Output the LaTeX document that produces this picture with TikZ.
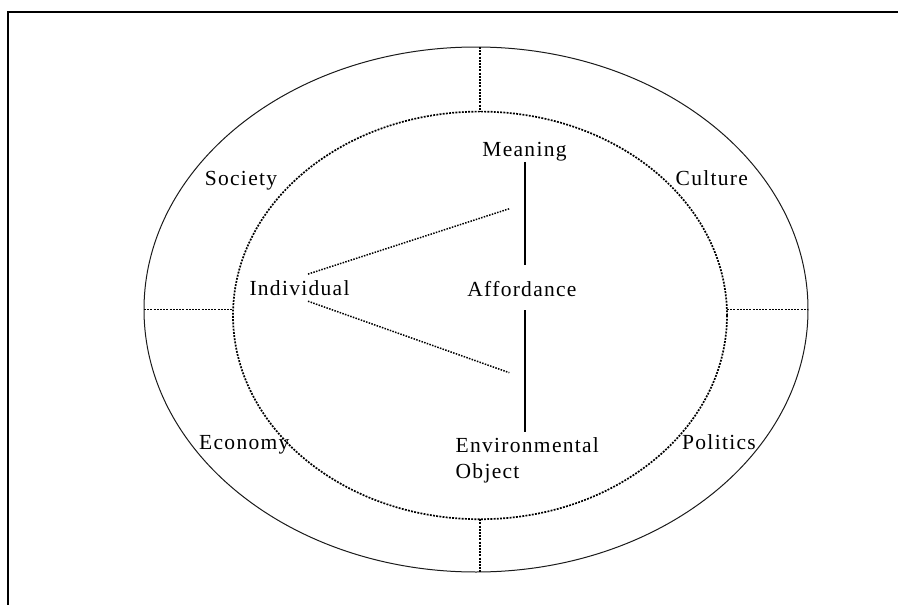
\documentclass[tikz,border=0pt]{standalone}
\usepackage{fontspec}
\usepackage{tikz}
\usetikzlibrary{shapes.geometric}
\newfontfamily\labelfont[LetterSpace=6]{Liberation Serif}
\definecolor{ringgray}{HTML}{1A1A1A}

\begin{document}
\begin{tikzpicture}[x=1pt,y=-1pt,
  frameline/.style={line width=2pt},
  ring/.style={ellipse,draw=ringgray,line width=1pt,inner sep=0pt,outer sep=0pt},
  dotring/.style={ring,draw=black,line width=1.7pt,dash pattern=on 1.9pt off 1.3pt},
  spoke/.style={line width=1.7pt,dash pattern=on 1.9pt off 1.3pt},
  link/.style={line width=1.5pt,dash pattern=on 1.5pt off 1.3pt},
  stem/.style={line width=2pt},
  tag/.style={font=\labelfont\fontsize{21.5pt}{25.7pt}\selectfont,
    inner sep=0pt,outer sep=0pt,anchor=base}]
  \useasboundingbox (0,0) rectangle (898,605);
  \draw[frameline] (898,12) -- (8,12) -- (8,605);

  \node[ring,minimum width=664pt,minimum height=525pt] (outer) at (476,309.5) {};
  \node[dotring,minimum width=494pt,minimum height=407.6pt] (inner) at (480,315.4) {};

  \draw[spoke] (inner.north |- outer.north) -- (inner.north);
  \draw[spoke] (inner.south) -- (inner.south |- outer.south);
  \draw[spoke] (outer.west) -- (outer.west -| inner.west);
  \draw[spoke] (outer.east -| inner.east) -- (outer.east);

  \node[tag] (society) at (241,185.7) {Society};
  \node[tag] (culture) at (711.8,185) {Culture};
  \node[tag] (economy) at (244.3,449.3) {Economy};
  \node[tag] (politics) at (719,449.3) {Politics};

  \node[tag] (meaning) at (524.5,156) {Meaning};
  \node[tag] (affordance) at (522,296) {Affordance};
  \node[tag] (individual) at (299.5,295) {Individual};
  \node[tag,align=left,anchor=north west] (envobj) at (455.7,438)
    {Environmental\\Object};

  \draw[stem,shorten <=1.3pt,shorten >=16.3pt]
    (meaning.south) -- (meaning.south |- affordance.north);
  \draw[stem,shorten <=14pt,shorten >=6pt]
    (meaning.south |- affordance.south) -- (meaning.south |- envobj.north);

  \coordinate (uptip) at (509.3,208.7);
  \coordinate (lowtip) at (509.3,372.7);
  \draw[link] ([xshift=8.5pt,yshift=6pt]individual.north) -- (uptip);
  \draw[link] ([xshift=8.5pt,yshift=-6pt]individual.south) -- (lowtip);
\end{tikzpicture}
\end{document}
